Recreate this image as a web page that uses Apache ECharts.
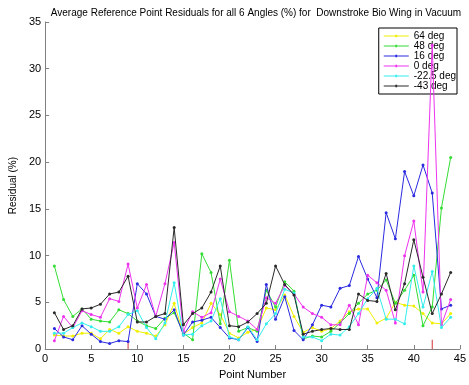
<!DOCTYPE html>
<html>
<head>
<meta charset="utf-8">
<script src="https://cdn.jsdelivr.net/npm/echarts@6/dist/echarts.min.js"></script>
<style>html,body{margin:0;padding:0;background:#fff;}#c{width:469px;height:385px;}</style>
</head>
<body>
<div id="c"></div>
<script>
const pointNumbers = Array.from({length: 44}, (_, i) => i + 1);
const seriesNames = ['64 deg', '48 deg', '16 deg', '0 deg', '-22.5 deg', '-43 deg'];
const deg64 = [1.5,1.4,1.4,1.7,1.7,1.1,2.1,1.7,2.4,1.9,1.7,1.4,2.6,4.9,1.6,2.3,2.8,4.9,3.7,1.7,1.2,1.8,2.1,4.4,4.2,5.8,3.5,1.8,2.3,1.9,2.2,3.0,4.0,4.3,4.3,2.8,3.3,5.0,4.7,4.6,3.8,2.8,2.7,3.8];
const deg48 = [8.9,5.3,3.5,4.3,3.2,3.0,2.9,4.2,3.8,3.0,2.5,2.2,3.3,3.9,1.7,1.0,10.2,8.2,2.7,9.5,1.9,2.3,1.9,6.3,4.5,7.2,6.2,1.1,1.4,1.3,1.9,2.8,3.8,4.9,5.9,6.3,7.4,4.9,6.3,7.9,2.5,4.5,15.1,20.5];
const deg16 = [2.2,1.3,1.0,2.5,1.6,0.8,0.6,0.9,0.8,7.0,5.9,3.5,3.2,4.2,1.5,2.9,3.1,3.4,2.3,1.2,1.0,2.3,0.8,6.9,3.2,5.6,2.0,1.0,2.6,4.7,4.5,6.5,6.8,9.9,7.5,5.5,14.6,11.8,19.0,16.4,19.7,16.7,4.3,4.7];
const deg0 = [0.9,3.5,2.3,4.1,3.7,3.4,5.4,5.1,9.1,4.4,6.9,3.5,7.0,11.4,1.9,4.0,3.4,3.9,7.5,4.0,3.5,3.0,2.1,5.5,4.9,6.8,5.9,4.5,3.8,3.4,2.6,2.6,4.7,2.6,7.9,7.1,6.3,2.8,10.0,13.7,6.1,32.5,2.6,5.3];
const degM22 = [1.7,1.7,2.3,2.8,2.4,1.9,1.9,2.4,3.7,4.1,2.3,1.1,2.8,7.1,1.5,1.6,2.5,3.0,5.4,1.3,1.0,2.4,1.0,2.7,3.8,6.4,6.0,1.3,1.3,0.9,1.6,1.5,2.4,3.8,5.4,6.5,3.2,3.2,2.7,8.9,4.5,8.3,2.3,3.4];
const degM43 = [3.9,2.1,2.5,4.3,4.4,4.8,5.9,6.1,7.8,2.9,2.9,3.5,3.8,13.0,2.6,3.8,4.4,6.1,8.9,2.5,2.4,2.9,3.8,4.9,8.9,6.9,5.8,1.6,1.9,2.1,2.2,2.1,2.1,5.9,5.2,5.1,8.1,4.2,7.0,11.7,7.7,3.8,5.9,8.2];
const stemX = [9, 42];
const stemTop = [0.9, 1.0];
const xTicks = [0,5,10,15,20,25,30,35,40,45];
const yTicks = [0,5,10,15,20,25,30,35];

const values = [deg64, deg48, deg16, deg0, degM22, degM43];
const colors = ['#f0f000', '#33dd33', '#2a2ae0', '#ee33ee', '#33eeee', '#2a2a2a'];
const font = 'Liberation Sans, Arial, sans-serif';

const chart = echarts.init(document.getElementById('c'), null, {renderer: 'canvas'});
const series = values.map((v, i) => ({
  name: seriesNames[i],
  type: 'line',
  data: v.map((y, k) => [pointNumbers[k], y]),
  symbol: 'circle',
  symbolSize: 3,
  showSymbol: true,
  lineStyle: {width: 1, color: colors[i]},
  itemStyle: {color: colors[i]},
  emphasis: {disabled: true},
  z: 3 + i
}));
series.push({
  name: 'stems',
  type: 'bar',
  data: stemX.map((x, k) => [x, stemTop[k]]),
  barWidth: 1,
  itemStyle: {color: '#d03030'},
  z: 2
});

chart.setOption({
  animation: false,
  backgroundColor: '#ffffff',
  title: {
    text: 'Average Reference Point Residuals for all 6 Angles (%) for  Downstroke Bio Wing in Vacuum',
    left: 251, textAlign: 'center', top: 3,
    textStyle: {fontFamily: font, fontSize: 10, fontWeight: 'normal', color: '#000'}
  },
  grid: {left: 40, right: 7, top: 22, bottom: 32, containLabel: false},
  legend: {
    data: seriesNames,
    orient: 'vertical',
    right: 12, top: 28,
    backgroundColor: '#fff',
    borderColor: '#000', borderWidth: 1,
    borderRadius: 0,
    padding: [3, 1, 3, 5],
    icon: 'path://M0,1 L28,1 L28,2 L0,2 Z M13,0 L15,0 L15,3 L13,3 Z',
    itemWidth: 25, itemHeight: 12, itemGap: 0,
    textStyle: {fontFamily: font, fontSize: 10, color: '#000', padding: [0, 4, 4, 0]}
  },
  xAxis: {
    type: 'value', min: 0, max: 45, interval: 5,
    name: 'Point Number', nameLocation: 'middle', nameGap: 19,
    nameTextStyle: {fontFamily: font, fontSize: 11, color: '#000'},
    axisLine: {show: true, lineStyle: {color: '#808080'}},
    axisTick: {show: true, inside: true, length: 4, lineStyle: {color: '#808080'}},
    axisLabel: {fontFamily: font, fontSize: 11, color: '#000', margin: 4},
    splitLine: {show: false}
  },
  yAxis: {
    type: 'value', min: 0, max: 35, interval: 5,
    name: 'Residual (%)', nameLocation: 'middle', nameGap: 19,
    nameTextStyle: {fontFamily: font, fontSize: 10, color: '#000'},
    axisLine: {show: true, lineStyle: {color: '#808080'}},
    axisTick: {show: true, inside: true, length: 4, lineStyle: {color: '#808080'}},
    axisLabel: {fontFamily: font, fontSize: 11, color: '#000', margin: 4},
    splitLine: {show: false}
  },
  series: series
});
</script>
</body>
</html>
